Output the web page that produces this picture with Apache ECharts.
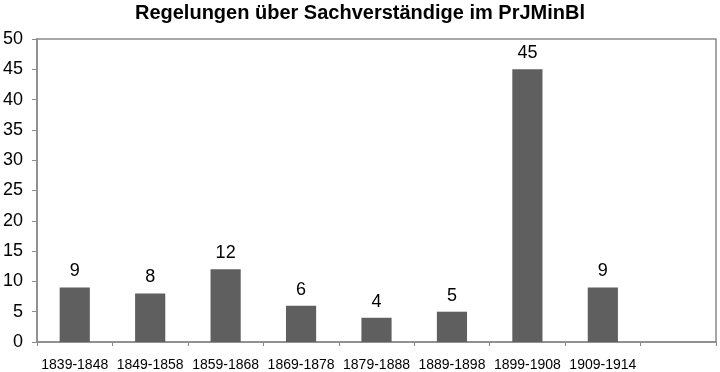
<!DOCTYPE html>
<html>
<head>
<meta charset="utf-8">
<script src="https://cdn.jsdelivr.net/npm/echarts@6/dist/echarts.min.js"></script>
<style>
html,body{margin:0;padding:0;background:#fff;}
#chart{width:720px;height:372px;}
</style>
</head>
<body>
<div id="chart"></div>
<script>
const titleText = 'Regelungen über Sachverständige im PrJMinBl';
const categories = ['1839-1848','1849-1858','1859-1868','1869-1878','1879-1888','1889-1898','1899-1908','1909-1914',''];
const values = [9, 8, 12, 6, 4, 5, 45, 9, null];
const yTicks = [0, 5, 10, 15, 20, 25, 30, 35, 40, 45, 50];

const chart = echarts.init(document.getElementById('chart'), null, {renderer:'canvas'});
const font = 'Liberation Sans, Arial, sans-serif';
chart.setOption({
  animation: false,
  backgroundColor: '#ffffff',
  title: {
    text: titleText,
    left: 'center',
    top: 3,
    padding: 0,
    textStyle: {fontFamily: font, fontSize: 20, fontWeight: 'bold', color: '#000'}
  },
  grid: {
    left: 36, right: 4, top: 39, bottom: 30,
    show: true, borderColor: '#8a8a8a', borderWidth: 1.5, backgroundColor: 'transparent'
  },
  xAxis: {
    type: 'category',
    data: categories,
    boundaryGap: true,
    axisLine: {show: true, lineStyle: {color: '#8a8a8a', width: 1.5}},
    axisTick: {show: true, length: 4, interval: 0, lineStyle: {color: '#8a8a8a', width: 1}},
    axisLabel: {interval: 0, margin: 16, fontFamily: font, fontSize: 14, color: '#000'},
    splitLine: {show: false}
  },
  yAxis: {
    type: 'value',
    min: yTicks[0],
    max: yTicks[yTicks.length - 1],
    interval: yTicks[1] - yTicks[0],
    axisLine: {show: true, lineStyle: {color: '#8a8a8a', width: 1.5}},
    axisTick: {show: true, length: 5, lineStyle: {color: '#8a8a8a', width: 1}},
    axisLabel: {margin: 14, fontFamily: font, fontSize: 18, color: '#000'},
    splitLine: {show: false}
  },
  series: [{
    type: 'bar',
    data: values,
    barWidth: '40%',
    itemStyle: {color: '#5f5f5f'},
    label: {
      show: true, position: 'top', distance: 7,
      fontFamily: font, fontSize: 18, color: '#000'
    }
  }]
});
</script>
</body>
</html>
